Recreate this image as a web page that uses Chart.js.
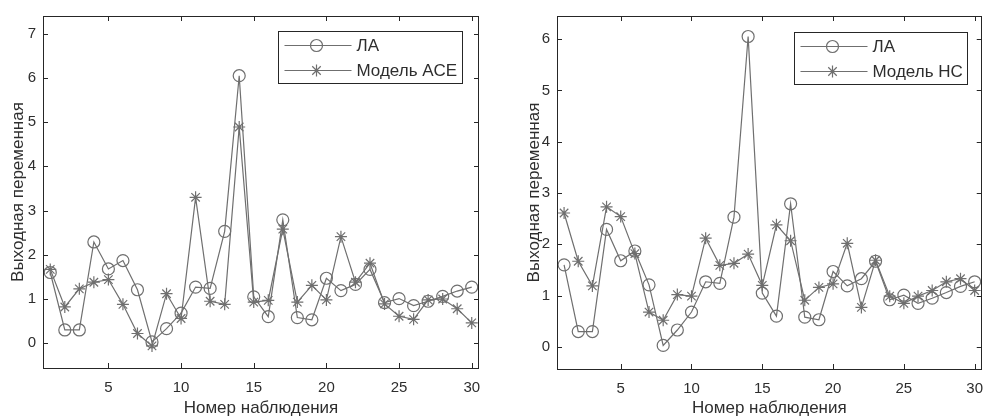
<!DOCTYPE html>
<html>
<head>
<meta charset="utf-8">
<script src="https://cdn.jsdelivr.net/npm/chart.js@4.4.0/dist/chart.umd.min.js"></script>
<style>
  html, body { margin: 0; padding: 0; background: #fff; }
  #wrap { position: relative; width: 994px; height: 417px; overflow: hidden; }
  .panel { position: absolute; top: 0; width: 497px; height: 417px; }
</style>
</head>
<body>
<div id="wrap">
  <div class="panel" style="left:0"><canvas id="chart_ace" width="497" height="417"></canvas></div>
  <div class="panel" style="left:497px"><canvas id="chart_ns" width="497" height="417"></canvas></div>
</div>
<script>
// observation numbers 1..30
var obsNumbers = [1, 2, 3, 4, 5, 6, 7, 8, 9, 10, 11, 12, 13, 14, 15,
                  16, 17, 18, 19, 20, 21, 22, 23, 24, 25, 26, 27, 28, 29, 30];

// measured output (ЛА)
var dataLA = [1.60, 0.30, 0.30, 2.29, 1.68, 1.87, 1.21, 0.03, 0.33, 0.68,
              1.27, 1.24, 2.53, 6.05, 1.05, 0.60, 2.79, 0.58, 0.53, 1.47,
              1.19, 1.33, 1.67, 0.92, 1.01, 0.85, 0.95, 1.06, 1.18, 1.27];

// ACE model output
var dataACE = [1.67, 0.82, 1.23, 1.38, 1.44, 0.88, 0.22, -0.06, 1.12, 0.56,
               3.30, 0.95, 0.88, 4.89, 0.93, 0.97, 2.58, 0.93, 1.31, 0.98,
               2.41, 1.38, 1.81, 0.89, 0.61, 0.54, 0.98, 1.00, 0.78, 0.46];

// neural network model output
var dataNS = [2.61, 1.67, 1.19, 2.73, 2.54, 1.82, 0.68, 0.52, 1.02, 0.99,
              2.12, 1.59, 1.63, 1.81, 1.20, 2.38, 2.07, 0.91, 1.16, 1.23,
              2.02, 0.77, 1.69, 0.99, 0.85, 0.99, 1.10, 1.27, 1.33, 1.10];

var xTicks = [5, 10, 15, 20, 25, 30];
var yTicksACE = [0, 1, 2, 3, 4, 5, 6, 7];
var yTicksNS = [0, 1, 2, 3, 4, 5, 6];

var labelLA = 'ЛА';
var labelACE = 'Модель ACE';
var labelNS = 'Модель НС';

var lineColor = '#6f6f6f';
var textColor = '#2e2e2e';
var fontFamily = '"Liberation Sans", Arial, Helvetica, sans-serif';

Chart.defaults.font.family = fontFamily;
Chart.defaults.color = textColor;

function toPoints(values) {
    return values.map(function(v, i) { return { x: obsNumbers[i], y: v }; });
}

// box around the axes with inward ticks on all four sides
var frameTicks = {
    id: 'frameTicks',
    afterDatasetsDraw: function(chart) {
        var ctx = chart.ctx, a = chart.chartArea;
        var xs = chart.scales.x, ys = chart.scales.y;
        var len = 5;
        ctx.save();
        ctx.strokeStyle = '#262626';
        ctx.lineWidth = 1;
        ctx.strokeRect(Math.round(a.left) + 0.5, Math.round(a.top) + 0.5,
                       Math.round(a.right - a.left) - 1, Math.round(a.bottom - a.top));
        ctx.beginPath();
        xs.ticks.forEach(function(t) {
            var px = Math.round(xs.getPixelForValue(t.value)) + 0.5;
            ctx.moveTo(px, a.bottom); ctx.lineTo(px, a.bottom - len);
            ctx.moveTo(px, a.top); ctx.lineTo(px, a.top + len);
        });
        ys.ticks.forEach(function(t) {
            var py = Math.round(ys.getPixelForValue(t.value)) + 0.5;
            ctx.moveTo(a.left, py); ctx.lineTo(a.left + len, py);
            ctx.moveTo(a.right, py); ctx.lineTo(a.right - len, py);
        });
        ctx.stroke();
        ctx.restore();
    }
};

// legend box in the upper right corner, line sample with marker
var boxLegend = {
    id: 'boxLegend',
    afterDraw: function(chart, args, opts) {
        var ctx = chart.ctx, a = chart.chartArea;
        var fontSize = opts.fontSize || 16;
        ctx.save();
        ctx.font = fontSize + 'px ' + fontFamily;
        var maxText = 0;
        chart.data.datasets.forEach(function(ds) {
            maxText = Math.max(maxText, ctx.measureText(ds.label).width);
        });
        var w = Math.round(78 + maxText + 5);
        var h = 52;
        var x0 = Math.round(a.right - opts.right - w) + 0.5;
        var y0 = Math.round(a.top + opts.top) + 0.5;
        ctx.fillStyle = '#fff';
        ctx.fillRect(x0, y0, w, h);
        ctx.strokeStyle = '#262626';
        ctx.lineWidth = 1;
        ctx.strokeRect(x0, y0, w, h);
        chart.data.datasets.forEach(function(ds, i) {
            var cy = y0 + 14 + i * 25;
            ctx.strokeStyle = ds.borderColor;
            ctx.lineWidth = ds.borderWidth;
            ctx.beginPath();
            ctx.moveTo(x0 + 6, cy);
            ctx.lineTo(x0 + 73, cy);
            ctx.stroke();
            ctx.fillStyle = 'rgba(0,0,0,0)';
            Chart.helpers.drawPoint(ctx, {
                pointStyle: ds.pointStyle,
                radius: ds.pointRadius,
                rotation: 0,
                borderWidth: ds.pointBorderWidth
            }, x0 + 38, cy);
            ctx.fillStyle = textColor;
            ctx.textBaseline = 'middle';
            ctx.textAlign = 'left';
            ctx.fillText(ds.label, x0 + 78, cy + 1);
        });
        ctx.restore();
    }
};

function makeDataset(label, values, style) {
    return {
        label: label,
        data: toPoints(values),
        borderColor: lineColor,
        borderWidth: 1.2,
        pointStyle: style,
        pointRadius: 6,
        pointHoverRadius: 6,
        pointBackgroundColor: 'rgba(0,0,0,0)',
        pointBorderColor: lineColor,
        pointBorderWidth: 1.2,
        tension: 0,
        fill: false
    };
}

function makeChart(canvasId, modelLabel, modelValues, cfg) {
    var ctx = document.getElementById(canvasId).getContext('2d');
    return new Chart(ctx, {
        type: 'line',
        data: {
            datasets: [
                makeDataset(labelLA, dataLA, 'circle'),
                makeDataset(modelLabel, modelValues, 'star')
            ]
        },
        options: {
            responsive: false,
            animation: false,
            devicePixelRatio: 1,
            layout: { autoPadding: false, padding: cfg.padding },
            plugins: {
                legend: { display: false },
                tooltip: { enabled: false },
                boxLegend: { right: cfg.legendRight, top: cfg.legendTop, fontSize: 17 }
            },
            scales: {
                x: {
                    type: 'linear',
                    min: 0.5,
                    max: 30.5,
                    afterBuildTicks: function(s) { s.ticks = xTicks.map(function(v) { return { value: v }; }); },
                    afterFit: function(s) { s.height = cfg.xHeight; },
                    grid: { display: false, drawTicks: false },
                    border: { display: false },
                    ticks: { color: textColor, font: { size: 15 }, padding: 11, maxRotation: 0, autoSkip: false },
                    title: { display: true, text: 'Номер наблюдения', color: textColor,
                             font: { size: 17 }, padding: { top: 0, bottom: -2 } }
                },
                y: {
                    min: cfg.yMin,
                    max: cfg.yMax,
                    afterBuildTicks: function(s) { s.ticks = cfg.yTicks.map(function(v) { return { value: v }; }); },
                    afterFit: function(s) { s.width = cfg.yWidth; },
                    grid: { display: false, drawTicks: false },
                    border: { display: false },
                    ticks: { color: textColor, font: { size: 15 }, padding: 7 },
                    title: { display: true, text: 'Выходная переменная', color: textColor,
                             font: { size: 17 }, padding: { top: 8, bottom: 0 } }
                }
            }
        },
        plugins: [frameTicks, boxLegend]
    });
}

var chartACE = makeChart('chart_ace', labelACE, dataACE, {
    padding: { left: 0, right: 18, top: 14, bottom: 0 },
    yWidth: 43, xHeight: 49,
    yMin: -0.56, yMax: 7.4, yTicks: yTicksACE,
    legendRight: 17, legendTop: 15
});

var chartNS = makeChart('chart_ns', labelNS, dataNS, {
    padding: { left: 19, right: 0, top: 15, bottom: 0 },
    yWidth: 41, xHeight: 48,
    yMin: -0.43, yMax: 6.45, yTicks: yTicksNS,
    legendRight: 15, legendTop: 16
});
</script>
</body>
</html>
